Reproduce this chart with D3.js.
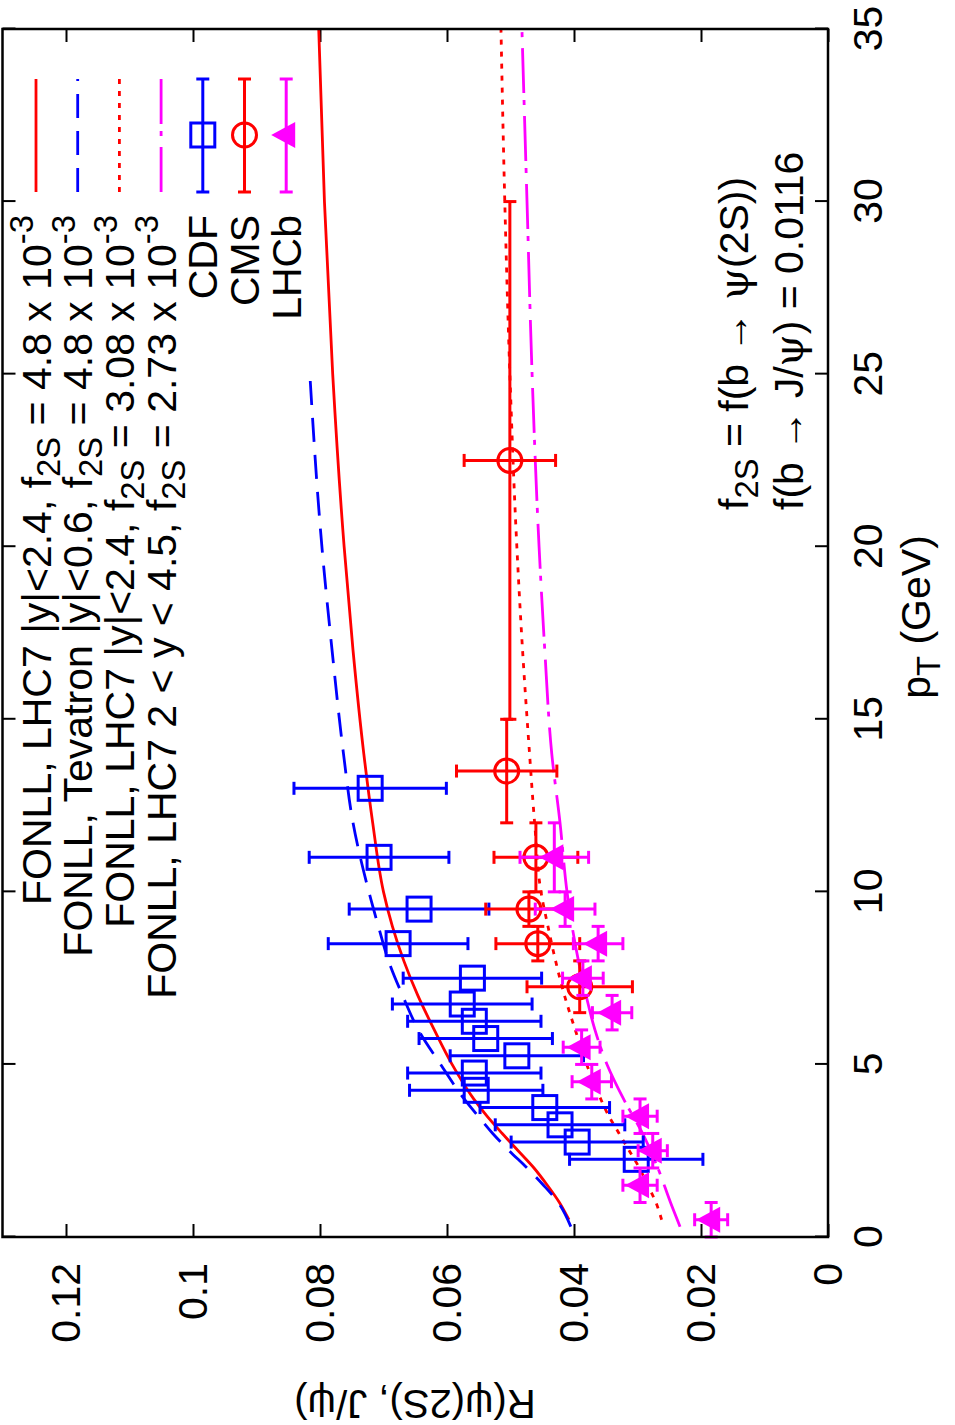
<!DOCTYPE html>
<html>
<head>
<meta charset="utf-8">
<script src="https://cdn.jsdelivr.net/npm/d3@7"></script>
<style>
  body { margin: 0; background: #fff; }
  text { font-family: "Liberation Sans", Arial, Helvetica, sans-serif; }
</style>
</head>
<body>
<div id="chart"></div>
<script>
// ---- data ----
const pTicks = [0, 5, 10, 15, 20, 25, 30, 35];
const rTicks = [0, 0.02, 0.04, 0.06, 0.08, 0.1, 0.12];
const rTickLabels = ["0", "0.02", "0.04", "0.06", "0.08", "0.1", "0.12"];

// FONLL curves
const lhcPt = [0.5, 1, 1.5, 2, 2.5, 3, 3.5, 4, 5, 6, 7, 8, 9, 10, 12, 14, 17, 20, 25, 30, 35];
const lhcR = [0.0408, 0.0423, 0.0442, 0.0463, 0.0488, 0.0513, 0.0537, 0.0558, 0.0592, 0.0620, 0.0646,
              0.0668, 0.0686, 0.0700, 0.0717, 0.0731, 0.0748, 0.0762, 0.0780, 0.0793, 0.0802];
const tevPt = [0.3, 1, 1.5, 2, 2.5, 3, 3.5, 4, 5, 6, 7, 8, 9, 10, 12, 14, 17, 20, 25];
const tevR = [0.0405, 0.0425, 0.0448, 0.0474, 0.0502, 0.0528, 0.0551, 0.0573, 0.0610, 0.0645, 0.0670,
              0.0692, 0.0708, 0.0723, 0.0748, 0.0763, 0.0781, 0.0797, 0.0816];
const lhcLowPt = [0.5, 1, 1.5, 2, 2.5, 3, 3.5, 4, 5, 6, 7, 8, 9, 10, 12, 14, 17, 20, 25, 30, 35];
const lhcLowR = [0.0262, 0.0271, 0.0284, 0.0297, 0.0313, 0.0329, 0.0345, 0.0358, 0.0380, 0.0398, 0.0415,
                 0.0429, 0.0441, 0.0452, 0.0462, 0.0470, 0.0481, 0.0490, 0.0501, 0.0509, 0.0515];
const fwdPt = [0.3, 1, 2, 3, 4, 5, 6, 7, 8, 9, 10, 12, 14, 17, 20, 25, 30, 35];
const fwdR = [0.0233, 0.0248, 0.0268, 0.0292, 0.0322, 0.0348, 0.0367, 0.0381, 0.0393, 0.0403, 0.0411,
              0.0422, 0.0435, 0.0446, 0.0455, 0.0466, 0.0474, 0.0482];

// CDF
const cdfPt = [2.25, 2.75, 3.25, 3.75, 4.25, 4.75, 5.25, 5.75, 6.25, 6.75, 7.5, 8.5, 9.5, 11, 13];
const cdfR = [0.0302, 0.0395, 0.0422, 0.0446, 0.0554, 0.0557, 0.0490, 0.0539, 0.0557, 0.0576, 0.0560,
              0.0677, 0.0644, 0.0707, 0.0721];
const cdfErr = [0.0105, 0.0104, 0.0102, 0.0102, 0.0105, 0.0105, 0.0105, 0.0105, 0.0105, 0.0110, 0.0109,
                0.0110, 0.0110, 0.0110, 0.0120];

// CMS
const cmsPt = [7.25, 8.5, 9.5, 11, 13.5, 22.5];
const cmsPtLo = [6.5, 8, 9, 10, 12, 15];
const cmsPtHi = [8, 9, 10, 12, 15, 30];
const cmsR = [0.0391, 0.0457, 0.0471, 0.0460, 0.0506, 0.0501];
const cmsErr = [0.0083, 0.0066, 0.0068, 0.0066, 0.0079, 0.0072];

// LHCb
const lhcbPt = [0.5, 1.5, 2.5, 3.5, 4.5, 5.5, 6.5, 7.5, 8.5, 9.5, 11];
const lhcbPtLo = [0, 1, 2, 3, 4, 5, 6, 7, 8, 9, 10];
const lhcbPtHi = [1, 2, 3, 4, 5, 6, 7, 8, 9, 10, 12];
const lhcbR = [0.0184, 0.0296, 0.0276, 0.0296, 0.0372, 0.0388, 0.0340, 0.0386, 0.0362, 0.0414, 0.0431];
const lhcbErr = [0.0026, 0.0027, 0.0023, 0.0027, 0.0031, 0.0029, 0.0031, 0.0032, 0.0039, 0.0047, 0.0054];

const curveLabels = [
  "FONLL, LHC7 |y|<2.4, f_{2S} = 4.8 x 10^{-3}",
  "FONLL, Tevatron |y|<0.6, f_{2S} = 4.8 x 10^{-3}",
  "FONLL, LHC7 |y|<2.4, f_{2S} = 3.08 x 10^{-3}",
  "FONLL, LHC7 2 < y < 4.5, f_{2S} = 2.73 x 10^{-3}"
];
const pointLabels = ["CDF", "CMS", "LHCb"];

// ---- drawing ----
const W = 955, H = 1425;
const FS = 41;
const RED = "#ff0000", BLUE = "#0000ff", MAG = "#ff00ff";

const svg = d3.select("#chart").append("svg")
  .attr("width", W)
  .attr("height", H);

svg.append("rect").attr("width", W).attr("height", H).attr("fill", "#fff");

// the landscape plot is turned a quarter turn, like the postscript page
const g = svg.append("g").attr("transform", `translate(0,${H}) rotate(-90)`);

const x = d3.scaleLinear().domain([0, 35]).range([188, 1396]);
const y = d3.scaleLinear().domain([0, 0.13]).range([828, 2.5]);

// enhanced text: f_{2S}, 10^{-3}
function rich(textSel, str, fs) {
  const parts = str.split(/([_^]\{[^}]*\}|ψ)/).filter(s => s.length);
  let shift = 0;
  parts.forEach(p => {
    let target = 0, size = fs, content = p;
    if (p.startsWith("_{")) { target = 0.24 * fs; size = 0.8 * fs; content = p.slice(2, -1); }
    else if (p.startsWith("^{")) { target = -0.42 * fs; size = 0.8 * fs; content = p.slice(2, -1); }
    const ts = textSel.append("tspan")
      .attr("dy", target - shift)
      .attr("font-size", size)
      .text(content);
    if (p === "ψ") ts.attr("font-family", "'DejaVu Serif', serif");
    shift = target;
  });
}

function styleAxis(sel) {
  sel.select(".domain").remove();
  sel.selectAll(".tick line").attr("stroke", "#000").attr("stroke-width", 2);
  sel.attr("font-family", "'Liberation Sans', Arial, sans-serif").attr("font-size", FS);
  sel.selectAll(".tick text").attr("fill", "#000");
}

g.append("g").attr("transform", "translate(0,828)")
  .call(d3.axisBottom(x).tickValues(pTicks).tickSizeInner(-13).tickSizeOuter(0).tickPadding(25))
  .call(styleAxis);
g.append("g").attr("transform", "translate(0,2.5)")
  .call(d3.axisTop(x).tickValues(pTicks).tickSizeInner(-13).tickSizeOuter(0).tickFormat(""))
  .call(styleAxis);
g.append("g").attr("transform", "translate(188,0)")
  .call(d3.axisLeft(y).tickValues(rTicks).tickSizeInner(-13).tickSizeOuter(0).tickPadding(26)
    .tickFormat((d, i) => rTickLabels[i]))
  .call(styleAxis);
g.append("g").attr("transform", "translate(1396,0)")
  .call(d3.axisRight(y).tickValues(rTicks).tickSizeInner(-13).tickSizeOuter(0).tickFormat(""))
  .call(styleAxis);

// axis titles
g.append("text")
  .attr("transform", "translate(35,415) rotate(-90)")
  .attr("text-anchor", "middle")
  .attr("font-size", 40)
  .text("R(ψ(2S), J/ψ)");

const xt = g.append("text")
  .attr("x", 808).attr("y", 930)
  .attr("text-anchor", "middle");
rich(xt, "p_{T} (GeV)", FS);

// note
const n1 = g.append("text").attr("x", 915).attr("y", 748);
rich(n1, "f_{2S} = f(b → ψ(2S))", FS);
const n2 = g.append("text").attr("x", 915).attr("y", 803);
rich(n2, "f(b → J/ψ) = 0.0116", FS);

// curves
const line = d3.line().x(d => x(d[0])).y(d => y(d[1])).curve(d3.curveMonotoneX);
const curves = [
  { pt: lhcPt, r: lhcR, color: RED, dash: null },
  { pt: tevPt, r: tevR, color: BLUE, dash: "24,13" },
  { pt: lhcLowPt, r: lhcLowR, color: RED, dash: "5,7" },
  { pt: fwdPt, r: fwdR, color: MAG, dash: "45,11,5,7" }
];
curves.forEach(c => {
  g.append("path")
    .datum(c.pt.map((p, i) => [p, c.r[i]]))
    .attr("d", line)
    .attr("fill", "none")
    .attr("stroke", c.color)
    .attr("stroke-width", 2.8)
    .attr("stroke-dasharray", c.dash);
});

// markers
const CAP = 6.5;
function vbar(sel, px, r1, r2, color) {
  sel.append("line").attr("x1", px).attr("x2", px).attr("y1", r1).attr("y2", r2)
    .attr("stroke", color).attr("stroke-width", 3);
  [r1, r2].forEach(v => sel.append("line").attr("x1", px - CAP).attr("x2", px + CAP)
    .attr("y1", v).attr("y2", v).attr("stroke", color).attr("stroke-width", 3));
}
function hbar(sel, p1, p2, py, color) {
  sel.append("line").attr("x1", p1).attr("x2", p2).attr("y1", py).attr("y2", py)
    .attr("stroke", color).attr("stroke-width", 3);
  [p1, p2].forEach(v => sel.append("line").attr("x1", v).attr("x2", v)
    .attr("y1", py - CAP).attr("y2", py + CAP).attr("stroke", color).attr("stroke-width", 3));
}
function square(sel, cx, cy, color) {
  sel.append("rect").attr("x", cx - 12).attr("y", cy - 12).attr("width", 24).attr("height", 24)
    .attr("fill", "none").attr("stroke", color).attr("stroke-width", 3);
}
function circle(sel, cx, cy, color) {
  sel.append("circle").attr("cx", cx).attr("cy", cy).attr("r", 12)
    .attr("fill", "none").attr("stroke", color).attr("stroke-width", 3);
}
function triangle(sel, cx, cy, color) {
  sel.append("path")
    .attr("d", `M${cx},${cy - 15}L${cx + 13},${cy + 9}L${cx - 13},${cy + 9}Z`)
    .attr("fill", color);
}

const cdfG = g.append("g");
cdfPt.forEach((p, i) => {
  vbar(cdfG, x(p), y(cdfR[i] - cdfErr[i]), y(cdfR[i] + cdfErr[i]), BLUE);
  square(cdfG, x(p), y(cdfR[i]), BLUE);
});

const cmsG = g.append("g");
cmsPt.forEach((p, i) => {
  vbar(cmsG, x(p), y(cmsR[i] - cmsErr[i]), y(cmsR[i] + cmsErr[i]), RED);
  hbar(cmsG, x(cmsPtLo[i]), x(cmsPtHi[i]), y(cmsR[i]), RED);
  circle(cmsG, x(p), y(cmsR[i]), RED);
});

const lhcbG = g.append("g");
lhcbPt.forEach((p, i) => {
  vbar(lhcbG, x(p), y(lhcbR[i] - lhcbErr[i]), y(lhcbR[i] + lhcbErr[i]), MAG);
  hbar(lhcbG, x(lhcbPtLo[i]), x(lhcbPtHi[i]), y(lhcbR[i]), MAG);
  triangle(lhcbG, x(p), y(lhcbR[i]), MAG);
});

// key
const key = g.append("g");
const rowY = i => 36 + i * 41.7;
const keyTextX = 1210, keyX1 = 1233, keyX2 = 1346, keyMid = 1290;
curveLabels.forEach((lab, i) => {
  const t = key.append("text").attr("x", keyTextX).attr("y", rowY(i) + 14.5)
    .attr("text-anchor", "end");
  rich(t, lab, FS);
  key.append("line").attr("x1", keyX1).attr("x2", keyX2).attr("y1", rowY(i)).attr("y2", rowY(i))
    .attr("stroke", curves[i].color).attr("stroke-width", 2.8)
    .attr("stroke-dasharray", curves[i].dash);
});
const pointColors = [BLUE, RED, MAG];
const pointMarks = [square, circle, triangle];
pointLabels.forEach((lab, j) => {
  const i = j + 4;
  key.append("text").attr("x", keyTextX).attr("y", rowY(i) + 14.5)
    .attr("text-anchor", "end").attr("font-size", FS).text(lab);
  hbar(key, keyX1, keyX2, rowY(i), pointColors[j]);
  pointMarks[j](key, keyMid, rowY(i), pointColors[j]);
});

// frame
g.append("rect")
  .attr("x", 188).attr("y", 2.5)
  .attr("width", 1396 - 188).attr("height", 828 - 2.5)
  .attr("fill", "none").attr("stroke", "#000").attr("stroke-width", 2.5);
</script>
</body>
</html>
